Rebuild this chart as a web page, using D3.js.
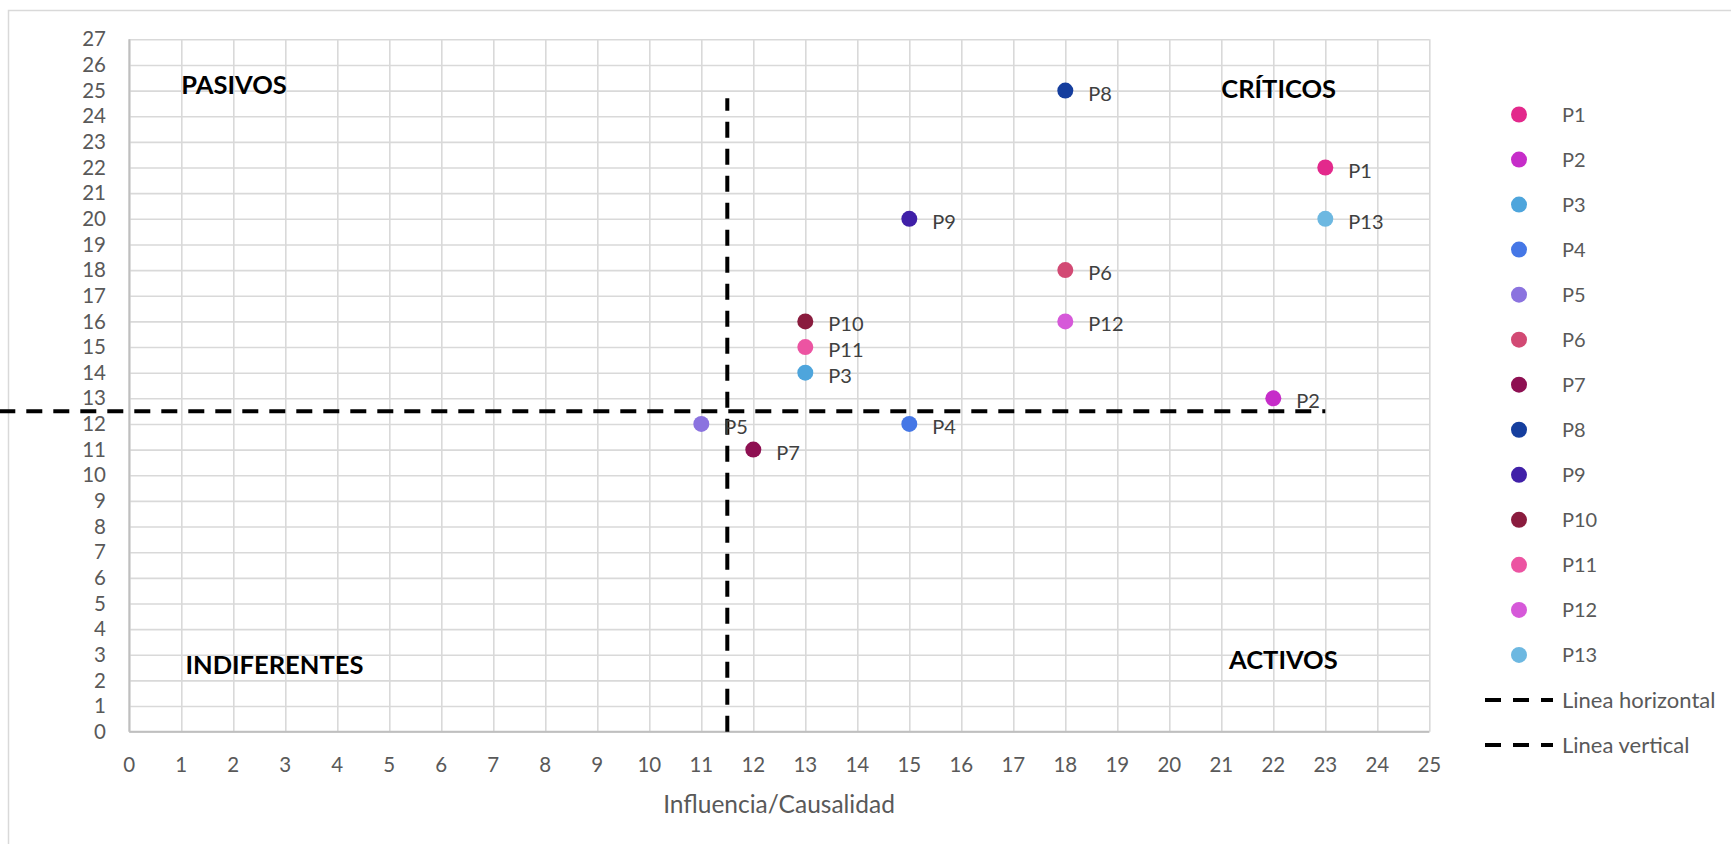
<!DOCTYPE html>
<html>
<head>
<meta charset="utf-8">
<script src="https://cdn.jsdelivr.net/npm/d3@7"></script>
<style>
  html, body { margin: 0; padding: 0; background: #fff; }
  svg { display: block; }
  text { font-family: Lato, "Open Sans", sans-serif; }
</style>
</head>
<body>
<svg id="chart" width="1731" height="844"></svg>
<script>
// ---- data ----
const names = ["P1","P2","P3","P4","P5","P6","P7","P8","P9","P10","P11","P12","P13"];
const xValues = [23, 22, 13, 15, 11, 18, 12, 18, 15, 13, 13, 18, 23];
const yValues = [22, 13, 14, 12, 12, 18, 11, 25, 20, 16, 15, 16, 20];
const colors = ["#E3298C","#C62DC9","#4EA5DC","#4577E6","#8B73DF","#D24A74","#8E1052","#153E9E","#4020A8","#8A1C3E","#EC54A2","#D659D9","#6DB8E1"];
const xTicks = d3.range(0, 26);
const yTicks = d3.range(0, 28);
const hLineX = [-2.5, 23];
const hLineY = [12.5, 12.5];
const vLineX = [11.5, 11.5];
const vLineY = [0, 24.7];
const lineNames = ["Linea horizontal", "Linea vertical"];
const quadrants = [
  {label: "PASIVOS", x: 1.0, y: 25.2},
  {label: "CRÍTICOS", x: 21.0, y: 25.05},
  {label: "INDIFERENTES", x: 1.08, y: 2.6},
  {label: "ACTIVOS", x: 21.15, y: 2.8}
];
const xTitle = "Influencia/Causalidad";

// ---- layout ----
const svg = d3.select("#chart");
const plot = {left: 129.3, right: 1429.3, top: 39.3, bottom: 731.7};
const x = d3.scaleLinear().domain([0, 25]).range([plot.left, plot.right]);
const y = d3.scaleLinear().domain([0, 27]).range([plot.bottom, plot.top]);

// chart border (right and bottom edges lie outside the picture)
svg.append("rect").attr("x", 8.5).attr("y", 10.5).attr("width", 1740).attr("height", 850)
  .attr("fill", "none").attr("stroke", "#d9d9d9").attr("stroke-width", 1.5);

// gridlines
const gx = svg.append("g").attr("transform", `translate(0,${plot.bottom})`)
  .call(d3.axisBottom(x).tickValues(xTicks).tickSize(-(plot.bottom - plot.top)).tickFormat(""));
gx.select(".domain").remove();
gx.selectAll(".tick line").attr("stroke", "#d9d9d9").attr("stroke-width", 1.6);
const gy = svg.append("g").attr("transform", `translate(${plot.left},0)`)
  .call(d3.axisLeft(y).tickValues(yTicks).tickSize(-(plot.right - plot.left)).tickFormat(""));
gy.select(".domain").remove();
gy.selectAll(".tick line").attr("stroke", "#d9d9d9").attr("stroke-width", 1.6);

// axis lines
svg.append("line").attr("x1", plot.left).attr("x2", plot.right).attr("y1", plot.bottom).attr("y2", plot.bottom)
  .attr("stroke", "#bfbfbf").attr("stroke-width", 2);
svg.append("line").attr("x1", plot.left).attr("x2", plot.left).attr("y1", plot.top).attr("y2", plot.bottom)
  .attr("stroke", "#bfbfbf").attr("stroke-width", 2);

// tick labels
svg.append("g").selectAll("text").data(xTicks).join("text")
  .attr("x", d => x(d)).attr("y", 765).attr("dy", "0.35em")
  .attr("text-anchor", "middle").attr("font-size", 20.5).attr("fill", "#595959").text(d => d);
svg.append("g").selectAll("text").data(yTicks).join("text")
  .attr("x", 106).attr("y", d => y(d)).attr("dy", "0.35em")
  .attr("text-anchor", "end").attr("font-size", 20.5).attr("fill", "#595959").text(d => d);

// axis title
svg.append("text").attr("x", (663 + 895) / 2).attr("y", 804).attr("dy", "0.35em")
  .attr("text-anchor", "middle").attr("font-size", 24.5).attr("fill", "#595959").text(xTitle);

// quadrant labels
svg.append("g").selectAll("text").data(quadrants).join("text")
  .attr("x", d => x(d.x)).attr("y", d => y(d.y)).attr("dy", "0.35em")
  .attr("font-size", 25.5).attr("font-weight", "bold").attr("fill", "#000").text(d => d.label);

// dashed lines
const line = d3.line().x(d => x(d[0])).y(d => y(d[1]));
svg.append("path").attr("d", line(d3.zip(hLineX, hLineY)))
  .attr("fill", "none").attr("stroke", "#000").attr("stroke-width", 4).attr("stroke-dasharray", "16,11");
svg.append("path").attr("d", line(d3.zip(vLineX, vLineY)))
  .attr("fill", "none").attr("stroke", "#000").attr("stroke-width", 4).attr("stroke-dasharray", "16,11");

// points
const pts = names.map((n, i) => ({name: n, x: xValues[i], y: yValues[i], c: colors[i]}));
svg.append("g").selectAll("circle").data(pts).join("circle")
  .attr("cx", d => x(d.x)).attr("cy", d => y(d.y)).attr("r", 8).attr("fill", d => d.c);
svg.append("g").selectAll("text").data(pts).join("text")
  .attr("x", d => x(d.x) + 23).attr("y", d => y(d.y) + 3).attr("dy", "0.35em")
  .attr("font-size", 20).attr("fill", "#404040").text(d => d.name);

// legend
const legY = d3.scaleLinear().domain([0, 14]).range([114.5, 745]);
const leg = svg.append("g");
leg.selectAll("circle").data(pts).join("circle")
  .attr("cx", 1519).attr("cy", (d, i) => legY(i)).attr("r", 8).attr("fill", d => d.c);
leg.selectAll("text.p").data(pts).join("text").attr("class", "p")
  .attr("x", 1562).attr("y", (d, i) => legY(i)).attr("dy", "0.35em")
  .attr("font-size", 20).attr("fill", "#595959").text(d => d.name);
leg.selectAll("line").data(lineNames).join("line")
  .attr("x1", 1485).attr("x2", 1553).attr("y1", (d, i) => legY(13 + i)).attr("y2", (d, i) => legY(13 + i))
  .attr("stroke", "#000").attr("stroke-width", 4).attr("stroke-dasharray", "16,12");
leg.selectAll("text.l").data(lineNames).join("text").attr("class", "l")
  .attr("x", 1562).attr("y", (d, i) => legY(13 + i)).attr("dy", "0.35em")
  .attr("font-size", 22).attr("fill", "#595959").text(d => d);
</script>
</body>
</html>
